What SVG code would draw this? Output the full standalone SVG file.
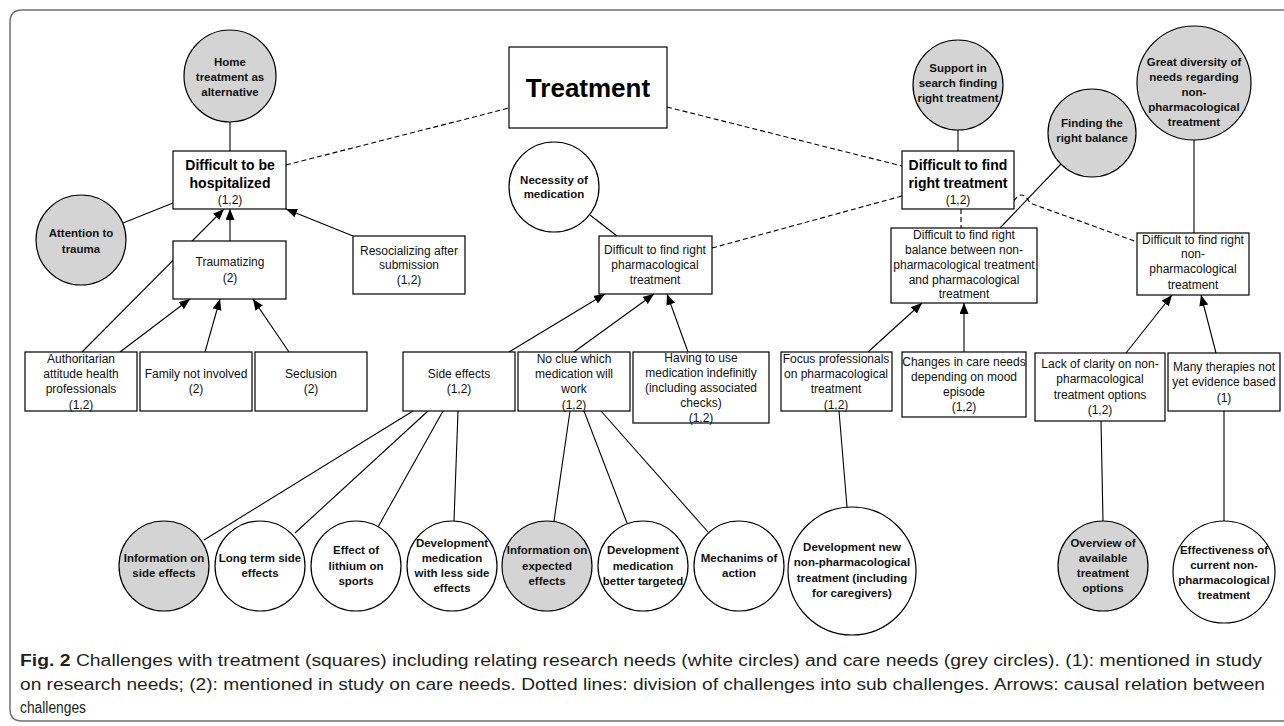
<svg xmlns="http://www.w3.org/2000/svg" width="1284" height="726" viewBox="0 0 1284 726">
<defs>
<marker id="ah" markerUnits="userSpaceOnUse" markerWidth="12" markerHeight="10" refX="11" refY="4.5" orient="auto">
<path d="M0,0 L11,4.5 L0,9 z" fill="#000"/>
</marker>
<style>
.bx{fill:#fff;stroke:#000;stroke-width:1.2}
.cw{fill:#fff;stroke:#000;stroke-width:1.2}
.cg{fill:#d4d4d4;stroke:#000;stroke-width:1.2}
.t{font-family:"Liberation Sans",Arial,sans-serif;font-size:12px;fill:#111;text-anchor:middle}
.b{font-family:"Liberation Sans",Arial,sans-serif;font-size:11.5px;font-weight:bold;fill:#111;text-anchor:middle}
.h{font-family:"Liberation Sans",Arial,sans-serif;font-size:14px;font-weight:bold;fill:#000;text-anchor:middle}
.ln{stroke:#000;stroke-width:1.1;fill:none}
.ar{stroke:#000;stroke-width:1.1;fill:none;marker-end:url(#ah)}
.ds{stroke:#000;stroke-width:1.1;fill:none;stroke-dasharray:5,3}
.cap{font-family:"Liberation Sans",Arial,sans-serif;font-size:16px;fill:#231f20}
</style>
</defs>
<rect width="1284" height="726" fill="#fff"/>
<path d="M1290,10 H22 Q10,10 10,22 V709 Q10,721 22,721 H1290" fill="none" stroke="#707070" stroke-width="1.5"/>

<g id="connectors">
<line class="ln" x1="230" y1="122" x2="230" y2="151"/>
<line class="ln" x1="123" y1="223" x2="173" y2="203"/>
<line class="ln" x1="590" y1="215" x2="617" y2="236"/>
<line class="ln" x1="958" y1="130" x2="958" y2="151" stroke="#555"/>
<line class="ln" x1="1061" y1="164" x2="1000" y2="228"/>
<line class="ln" x1="1194" y1="140" x2="1194" y2="233"/>
<line class="ln" x1="413" y1="411" x2="204" y2="540"/>
<line class="ln" x1="428" y1="411" x2="295" y2="533"/>
<line class="ln" x1="443" y1="411" x2="378" y2="527"/>
<line class="ln" x1="458" y1="411" x2="454" y2="521"/>
<line class="ln" x1="570" y1="411" x2="554" y2="521"/>
<line class="ln" x1="584" y1="411" x2="627" y2="523"/>
<line class="ln" x1="601" y1="411" x2="708" y2="532"/>
<line class="ln" x1="839" y1="411" x2="847" y2="507"/>
<line class="ln" x1="1101" y1="421" x2="1103" y2="521"/>
<line class="ln" x1="1224" y1="411" x2="1224" y2="521"/>
<line class="ar" x1="230" y1="241" x2="230" y2="209"/>
<line class="ar" x1="82" y1="352" x2="224" y2="209"/>
<line class="ar" x1="120" y1="352" x2="190" y2="299"/>
<line class="ar" x1="205" y1="352" x2="220" y2="299"/>
<line class="ar" x1="289" y1="352" x2="253" y2="299"/>
<line class="ar" x1="353" y1="236" x2="286" y2="209"/>
<line class="ar" x1="509" y1="352" x2="605" y2="294"/>
<line class="ar" x1="574" y1="352" x2="654" y2="294"/>
<line class="ar" x1="688" y1="352" x2="667" y2="294"/>
<line class="ar" x1="868" y1="352" x2="922" y2="303"/>
<line class="ar" x1="964" y1="352" x2="964" y2="303" stroke="#444"/>
<line class="ar" x1="1126" y1="353" x2="1172" y2="295"/>
<line class="ar" x1="1216" y1="353" x2="1201" y2="295"/>
<line class="ds" x1="286" y1="165" x2="509" y2="108"/>
<line class="ds" x1="667" y1="107" x2="902" y2="166"/>
<line class="ds" x1="712" y1="248" x2="902" y2="196"/>
<line class="ds" x1="961" y1="209" x2="961" y2="228"/>
<path class="ds" d="M1014,201 Q1022,188 1030,203 L1137,242"/>
</g>

<g id="treatment"><rect class="bx" x="509" y="47" width="158" height="81"/><text x="588" y="97" font-family="Liberation Sans,Arial,sans-serif" font-size="26" font-weight="bold" text-anchor="middle">Treatment</text></g>

<g id="hospitalized"><rect class="bx" x="173" y="151" width="113" height="58"/><text class="h" x="230" y="170">Difficult to be</text><text class="h" x="230" y="188">hospitalized</text><text class="t" x="230" y="204">(1,2)</text></g>
<g id="right-treatment"><rect class="bx" x="902" y="151" width="112" height="58"/><text class="h" x="958" y="170">Difficult to find</text><text class="h" x="958" y="188">right treatment</text><text class="t" x="958" y="204">(1,2)</text></g>

<g id="home"><circle class="cg" cx="230" cy="76" r="46"/><text class="b" x="230" y="66">Home</text><text class="b" x="230" y="81">treatment as</text><text class="b" x="230" y="96">alternative</text></g>
<g id="attention"><circle class="cg" cx="81" cy="240" r="45"/><text class="b" x="81" y="237">Attention to</text><text class="b" x="81" y="253">trauma</text></g>
<g id="necessity"><circle class="cw" cx="554" cy="187" r="45"/><text class="b" x="554" y="184">Necessity of</text><text class="b" x="554" y="198">medication</text></g>
<g id="support"><circle class="cg" cx="958" cy="85" r="45"/><text class="b" x="958" y="72">Support in</text><text class="b" x="958" y="87">search finding</text><text class="b" x="958" y="102">right treatment</text></g>
<g id="balance-need"><circle class="cg" cx="1092" cy="133" r="44"/><text class="b" x="1092" y="127">Finding the</text><text class="b" x="1092" y="142">right balance</text></g>
<g id="diversity"><circle class="cg" cx="1194" cy="83" r="57"/><text class="b" x="1194" y="66">Great diversity of</text><text class="b" x="1194" y="81">needs regarding</text><text class="b" x="1194" y="96">non-</text><text class="b" x="1194" y="111">pharmacological</text><text class="b" x="1194" y="126">treatment</text></g>

<g id="traumatizing"><rect class="bx" x="173" y="241" width="113" height="58"/><text class="t" x="230" y="266">Traumatizing</text><text class="t" x="230" y="282">(2)</text></g>
<g id="resocializing"><rect class="bx" x="353" y="236" width="112" height="58"/><text class="t" x="409" y="255">Resocializing after</text><text class="t" x="409" y="269">submission</text><text class="t" x="409" y="284">(1,2)</text></g>
<g id="pharma"><rect class="bx" x="599" y="236" width="113" height="58"/><text class="t" x="655" y="254">Difficult to find right</text><text class="t" x="655" y="269">pharmacological</text><text class="t" x="655" y="284">treatment</text></g>
<g id="balance"><rect class="bx" x="891" y="228" width="146" height="75"/><text class="t" x="964" y="239">Difficult to find right</text><text class="t" x="964" y="254">balance between non-</text><text class="t" x="964" y="269">pharmacological treatment</text><text class="t" x="964" y="284">and pharmacological</text><text class="t" x="964" y="298">treatment</text></g>
<g id="nonpharma"><rect class="bx" x="1137" y="233" width="112" height="62"/><text class="t" x="1193" y="244">Difficult to find right</text><text class="t" x="1193" y="258">non-</text><text class="t" x="1193" y="273">pharmacological</text><text class="t" x="1193" y="289">treatment</text></g>

<g id="authoritarian"><rect class="bx" x="25" y="352" width="112" height="59"/><text class="t" x="81" y="363">Authoritarian</text><text class="t" x="81" y="378">attitude health</text><text class="t" x="81" y="393">professionals</text><text class="t" x="81" y="409">(1,2)</text></g>
<g id="family"><rect class="bx" x="140" y="352" width="112" height="59"/><text class="t" x="196" y="378">Family not involved</text><text class="t" x="196" y="393">(2)</text></g>
<g id="seclusion"><rect class="bx" x="255" y="352" width="112" height="59"/><text class="t" x="311" y="378">Seclusion</text><text class="t" x="311" y="393">(2)</text></g>
<g id="side-effects"><rect class="bx" x="403" y="352" width="112" height="59"/><text class="t" x="459" y="378">Side effects</text><text class="t" x="459" y="393">(1,2)</text></g>
<g id="no-clue"><rect class="bx" x="518" y="352" width="112" height="59"/><text class="t" x="574" y="363">No clue which</text><text class="t" x="574" y="378">medication will</text><text class="t" x="574" y="393">work</text><text class="t" x="574" y="409">(1,2)</text></g>
<g id="having"><rect class="bx" x="633" y="352" width="136" height="71"/><text class="t" x="701" y="362">Having to use</text><text class="t" x="701" y="377">medication indefinitly</text><text class="t" x="701" y="392">(including associated</text><text class="t" x="701" y="407">checks)</text><text class="t" x="701" y="422">(1,2)</text></g>
<g id="focus"><rect class="bx" x="781" y="352" width="111" height="59"/><text class="t" x="836" y="363">Focus professionals</text><text class="t" x="836" y="378">on pharmacological</text><text class="t" x="836" y="393">treatment</text><text class="t" x="836" y="409">(1,2)</text></g>
<g id="changes"><rect class="bx" x="902" y="352" width="124" height="65"/><text class="t" x="964" y="366">Changes in care needs</text><text class="t" x="964" y="381">depending on mood</text><text class="t" x="964" y="396">episode</text><text class="t" x="964" y="411">(1,2)</text></g>
<g id="lack"><rect class="bx" x="1035" y="353" width="130" height="68"/><text class="t" x="1100" y="368">Lack of clarity on non-</text><text class="t" x="1100" y="383">pharmacological</text><text class="t" x="1100" y="399">treatment options</text><text class="t" x="1100" y="414">(1,2)</text></g>
<g id="many"><rect class="bx" x="1168" y="353" width="112" height="58"/><text class="t" x="1224" y="371">Many therapies not</text><text class="t" x="1224" y="386">yet evidence based</text><text class="t" x="1224" y="402">(1)</text></g>

<g id="info-side"><circle class="cg" cx="164" cy="566" r="45"/><text class="b" x="164" y="562">Information on</text><text class="b" x="164" y="577">side effects</text></g>
<g id="long-term"><circle class="cw" cx="260" cy="566" r="45"/><text class="b" x="260" y="562">Long term side</text><text class="b" x="260" y="577">effects</text></g>
<g id="lithium"><circle class="cw" cx="356" cy="566" r="45"/><text class="b" x="356" y="554">Effect of</text><text class="b" x="356" y="570">lithium on</text><text class="b" x="356" y="585">sports</text></g>
<g id="dev-less"><circle class="cw" cx="452" cy="566" r="45"/><text class="b" x="452" y="547">Development</text><text class="b" x="452" y="562">medication</text><text class="b" x="452" y="577">with less side</text><text class="b" x="452" y="592">effects</text></g>
<g id="info-expected"><circle class="cg" cx="547" cy="566" r="45"/><text class="b" x="547" y="554">Information on</text><text class="b" x="547" y="570">expected</text><text class="b" x="547" y="585">effects</text></g>
<g id="dev-targeted"><circle class="cw" cx="643" cy="566" r="45"/><text class="b" x="643" y="554">Development</text><text class="b" x="643" y="570">medication</text><text class="b" x="643" y="585">better targeted</text></g>
<g id="mechanisms"><circle class="cw" cx="739" cy="566" r="45"/><text class="b" x="739" y="562">Mechanims of</text><text class="b" x="739" y="577">action</text></g>
<g id="dev-new"><circle class="cw" cx="852" cy="571" r="64"/><text class="b" x="852" y="551">Development new</text><text class="b" x="852" y="566">non-pharmacological</text><text class="b" x="852" y="582">treatment (including</text><text class="b" x="852" y="597">for caregivers)</text></g>
<g id="overview"><circle class="cg" cx="1103" cy="566" r="45"/><text class="b" x="1103" y="547">Overview of</text><text class="b" x="1103" y="562">available</text><text class="b" x="1103" y="577">treatment</text><text class="b" x="1103" y="592">options</text></g>
<g id="effectiveness"><circle class="cw" cx="1224" cy="572" r="51"/><text class="b" x="1224" y="554">Effectiveness of</text><text class="b" x="1224" y="569">current non-</text><text class="b" x="1224" y="584">pharmacological</text><text class="b" x="1224" y="599">treatment</text></g>

<g id="caption">
<text class="cap" x="20" y="666" textLength="1242" lengthAdjust="spacingAndGlyphs"><tspan font-weight="bold">Fig. 2</tspan>  Challenges with treatment (squares) including relating research needs (white circles) and care needs (grey circles). (1): mentioned in study</text>
<text class="cap" x="20" y="690" textLength="1245" lengthAdjust="spacingAndGlyphs">on research needs; (2): mentioned in study on care needs. Dotted lines: division of challenges into sub challenges. Arrows: causal relation between</text>
<text class="cap" x="20" y="713" textLength="66" lengthAdjust="spacingAndGlyphs">challenges</text>
</g>
</svg>
